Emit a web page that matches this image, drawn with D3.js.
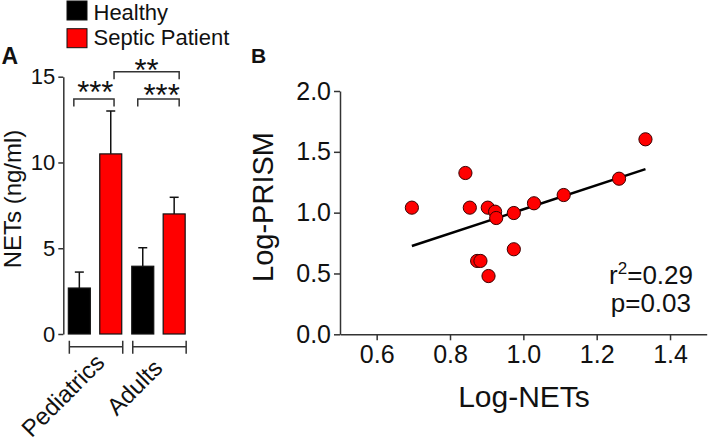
<!DOCTYPE html>
<html><head><meta charset="utf-8">
<script src="https://cdn.jsdelivr.net/npm/d3@7"></script>
<style>
html,body{margin:0;padding:0;background:#fff;}
text{font-family:"Liberation Sans",Arial,sans-serif;fill:#111;}
</style></head>
<body><svg id="chart" width="709" height="444"></svg>
<script>
// ---------- Panel A data ----------
const groups = ["Pediatrics", "Adults"];
const seriesNames = ["Healthy", "Septic Patient"];
const seriesColors = ["#000000", "#ff0000"];
const meanHealthy = [2.68, 3.95];
const meanSeptic = [10.5, 7.0];
const semHealthy = [0.93, 1.08];
const semSeptic = [2.5, 0.97];
const yTicksA = [0, 5, 10, 15];
// significance: [group index, series index] pairs
const sigFrom = [[0,0],[1,0],[0,1]];
const sigTo = [[0,1],[1,1],[1,1]];
const sigLabel = ["***","***","**"];
const sigLevel = [13.7, 13.7, 15.29];

// ---------- Panel B data ----------
const logNETs = [0.696,0.842,0.854,0.903,0.923,0.926,0.974,1.029,1.110,1.261,1.333,0.974,0.874,0.883,0.905];
const logPRISM = [1.041,1.326,1.041,1.041,1.008,0.956,0.997,1.077,1.145,1.279,1.603,0.699,0.603,0.603,0.479];
const xTicksB = [0.6, 0.8, 1.0, 1.2, 1.4];
const yTicksB = [0.0, 0.5, 1.0, 1.5, 2.0];

const svg = d3.select("#chart");
const axisColor = "#333";
const FONT = '"Liberation Sans",Arial,sans-serif';

// ================= Panel A =================
const yA = d3.scaleLinear().domain([0, 15]).range([334, 76.7]);
const x0 = d3.scaleBand().domain(groups).range([63.9, 189.6]).paddingInner(0.158).paddingOuter(0.07);
const x1 = d3.scaleBand().domain(seriesNames).range([0, x0.bandwidth()]).paddingInner(0.3);

const gA = svg.append("g");
const yAxisA = d3.axisLeft(yA).tickValues(yTicksA).tickSize(5).tickPadding(3).tickSizeOuter(0);
const ya = gA.append("g").attr("transform", "translate(63.3,0)").call(yAxisA);
ya.select(".domain").attr("stroke", axisColor).attr("stroke-width", 1.5);
ya.selectAll(".tick line").attr("stroke", axisColor).attr("stroke-width", 1.5);
ya.selectAll(".tick text").attr("font-size", 22).attr("fill", "#111").style("font-family", FONT);

const barData = [];
groups.forEach((g, gi) => {
  barData.push({g, s: seriesNames[0], si: 0, v: meanHealthy[gi], e: semHealthy[gi]});
  barData.push({g, s: seriesNames[1], si: 1, v: meanSeptic[gi], e: semSeptic[gi]});
});
const bx = d => x0(d.g) + x1(d.s);
const bw = x1.bandwidth();

// error bars (upward only)
gA.selectAll("line.err").data(barData).enter().append("line")
  .attr("x1", d => bx(d) + bw/2).attr("x2", d => bx(d) + bw/2)
  .attr("y1", d => yA(d.v)).attr("y2", d => yA(d.v + d.e))
  .attr("stroke", "#111").attr("stroke-width", 1.5);
gA.selectAll("line.cap").data(barData).enter().append("line")
  .attr("x1", d => bx(d) + bw/2 - 4.5).attr("x2", d => bx(d) + bw/2 + 4.5)
  .attr("y1", d => yA(d.v + d.e)).attr("y2", d => yA(d.v + d.e))
  .attr("stroke", "#111").attr("stroke-width", 1.5);

gA.selectAll("rect.bar").data(barData).enter().append("rect")
  .attr("x", d => bx(d)).attr("width", bw)
  .attr("y", d => yA(d.v)).attr("height", d => yA(0) - yA(d.v))
  .attr("fill", d => seriesColors[d.si]).attr("stroke", "#111").attr("stroke-width", 1.2);

// group brackets below + rotated labels
const gbY = 346.7;
groups.forEach(g => {
  const l = x0(g) + 1, r = x0(g) + x0.bandwidth() + 1;
  gA.append("path").attr("d", `M${l},${gbY - 6}V${gbY + 7}M${l},${gbY}H${r}M${r},${gbY - 6}V${gbY + 7}`)
    .attr("fill", "none").attr("stroke", axisColor).attr("stroke-width", 1.5);
  const t = gA.append("text")
    .attr("transform", `translate(${x0(g) + x0.bandwidth()/2 - 4},${379}) rotate(-45)`)
    .attr("text-anchor", "start").attr("font-size", 24).text(g);
  const len = t.node().getComputedTextLength();
  t.attr("x", -0.8 * len);
});

// significance brackets
const sigFromOff = [-5.5, -5, 3.3];
const sigToOff = [3.3, 5, 5];
const sigTextDy = [4.3, 7.3, 9.6];
const sigTextDx = [1.3, 3.2, 0];
sigLabel.forEach((lab, i) => {
  const a = sigFrom[i], b = sigTo[i];
  const xa = x0(groups[a[0]]) + x1(seriesNames[a[1]]) + bw/2 + sigFromOff[i];
  const xb = x0(groups[b[0]]) + x1(seriesNames[b[1]]) + bw/2 + sigToOff[i];
  const yy = yA(sigLevel[i]);
  gA.append("path").attr("d", `M${xa},${yy + 7.5}V${yy}H${xb}V${yy + 7.5}`)
    .attr("fill", "none").attr("stroke", axisColor).attr("stroke-width", 1.5);
  gA.append("text").attr("x", (xa + xb) / 2 + sigTextDx[i]).attr("y", yy + sigTextDy[i])
    .attr("text-anchor", "middle").attr("font-size", 31).text(lab);
});

// y label A
gA.append("text").attr("transform", "translate(21,199) rotate(-90)")
  .attr("text-anchor", "middle").attr("font-size", 24).text("NETs (ng/ml)");

// legend
seriesNames.forEach((s, i) => {
  gA.append("rect").attr("x", 67).attr("y", 1 + i * 27.7).attr("width", 20).attr("height", 19)
    .attr("fill", seriesColors[i]).attr("stroke", "#111").attr("stroke-width", 1);
  gA.append("text").attr("x", 93.5).attr("y", 20 + i * 24.5).attr("font-size", 22).text(s);
});

// panel label A
svg.append("text").attr("x", 1.5).attr("y", 64).attr("font-size", 23).attr("font-weight", "bold").text("A");

// ================= Panel B =================
const xB = d3.scaleLinear().domain([0.5, 1.5]).range([340, 706.7]);
const yB = d3.scaleLinear().domain([0, 2]).range([334.3, 91]);
const gB = svg.append("g");

const xaB = gB.append("g").attr("transform", "translate(0,334.3)")
  .call(d3.axisBottom(xB).tickValues(xTicksB).tickFormat(d3.format(".1f")).tickSize(6).tickPadding(5).tickSizeOuter(0));
const yaB = gB.append("g").attr("transform", "translate(340,0)")
  .call(d3.axisLeft(yB).tickValues(yTicksB).tickFormat(d3.format(".1f")).tickSize(6).tickPadding(3).tickSizeOuter(0));
[xaB, yaB].forEach(ax => {
  ax.select(".domain").attr("stroke", axisColor).attr("stroke-width", 1.5);
  ax.selectAll(".tick line").attr("stroke", axisColor).attr("stroke-width", 1.5);
  ax.selectAll(".tick text").attr("font-size", 25).attr("fill", "#111").style("font-family", FONT);
});

// regression line computed from data
const mx = d3.mean(logNETs), my = d3.mean(logPRISM);
let sxy = 0, sxx = 0;
logNETs.forEach((x, i) => { sxy += (x - mx) * (logPRISM[i] - my); sxx += (x - mx) * (x - mx); });
const slope = sxy / sxx, icpt = my - slope * mx;
const [xmin, xmax] = d3.extent(logNETs);
gB.append("line")
  .attr("x1", xB(xmin)).attr("y1", yB(icpt + slope * xmin))
  .attr("x2", xB(xmax)).attr("y2", yB(icpt + slope * xmax))
  .attr("stroke", "#000").attr("stroke-width", 2.5);

gB.selectAll("circle.pt").data(logNETs).enter().append("circle")
  .attr("cx", d => xB(d)).attr("cy", (d, i) => yB(logPRISM[i])).attr("r", 6.6)
  .attr("fill", "#ff0000").attr("stroke", "#3a0000").attr("stroke-width", 1);

// axis titles
gB.append("text").attr("x", 524).attr("y", 407).attr("text-anchor", "middle").attr("font-size", 30).text("Log-NETs");
gB.append("text").attr("transform", "translate(273,207) rotate(-90)").attr("text-anchor", "middle")
  .attr("font-size", 29).text("Log-PRISM");

// stats
const t1 = gB.append("text").attr("x", 693).attr("y", 284).attr("text-anchor", "end").attr("font-size", 26);
t1.append("tspan").text("r");
t1.append("tspan").attr("dy", -10).attr("font-size", 17).text("2");
t1.append("tspan").attr("dy", 10).text("=0.29");
gB.append("text").attr("x", 691).attr("y", 312).attr("text-anchor", "end").attr("font-size", 26).text("p=0.03");

svg.append("text").attr("x", 251).attr("y", 63).attr("font-size", 21).attr("font-weight", "bold").text("B");
</script></body></html>
